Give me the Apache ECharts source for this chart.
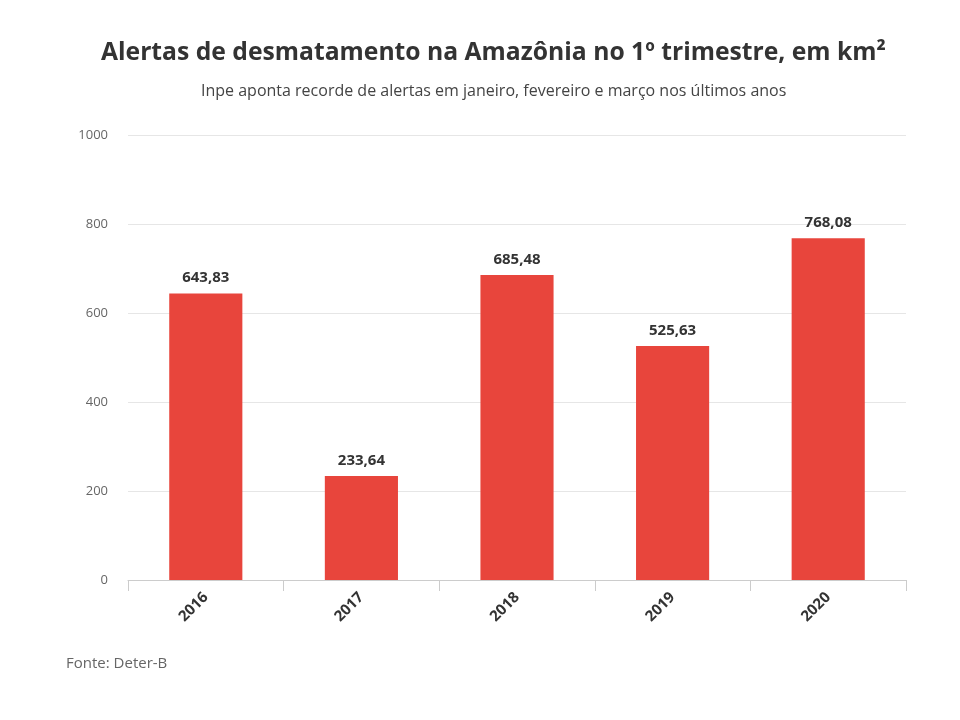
<!DOCTYPE html>
<html>
<head>
<meta charset="utf-8">
<script src="https://cdn.jsdelivr.net/npm/echarts@6/dist/echarts.min.js"></script>
<style>
  html, body { margin: 0; padding: 0; background: #fff; }
  #main { width: 960px; height: 720px; }
</style>
</head>
<body>
<div id="main"></div>
<script>
var anos = ['2016', '2017', '2018', '2019', '2020'];
var alertas = [643.83, 233.64, 685.48, 525.63, 768.08];
var yMax = 1000;
var yStep = 200;

var myChart = echarts.init(document.getElementById('main'));

var option = {
    backgroundColor: '#fff',
    textStyle: { fontFamily: 'Open Sans' },
    title: [{
        text: 'Alertas de desmatamento na Amazônia no 1º trimestre, em km²',
        left: 96,
        top: 35,
        textStyle: { fontFamily: 'Open Sans', fontSize: 24.7, fontWeight: 'bold', color: '#333' }
    }, {
        text: 'Inpe aponta recorde de alertas em janeiro, fevereiro e março nos últimos anos',
        left: 196,
        top: 78,
        textStyle: { fontFamily: 'Open Sans', fontSize: 16, fontWeight: 'normal', color: '#444' }
    }, {
        text: 'Fonte: Deter-B',
        left: 61,
        top: 651,
        textStyle: { fontFamily: 'Open Sans', fontSize: 15, fontWeight: 'normal', color: '#666' }
    }],
    grid: { left: 128, right: 54, top: 135, bottom: 140 },
    xAxis: {
        type: 'category',
        data: anos,
        axisLine: { lineStyle: { color: '#cccccc' } },
        axisTick: { show: true, length: 11, lineStyle: { color: '#cccccc' } },
        axisLabel: {
            rotate: 45,
            fontFamily: 'Open Sans',
            fontSize: 15,
            fontWeight: 'bold',
            color: '#333',
            margin: 15
        }
    },
    yAxis: {
        type: 'value',
        min: 0,
        max: yMax,
        interval: yStep,
        axisLine: { show: false },
        axisTick: { show: false },
        axisLabel: {
            fontFamily: 'Open Sans',
            fontSize: 13,
            color: '#666',
            margin: 20,
            formatter: function (v) { return String(v); }
        },
        splitLine: { lineStyle: { color: '#e6e6e6' } }
    },
    series: [{
        type: 'bar',
        data: alertas,
        barWidth: '47%',
        itemStyle: { color: '#e8453c' },
        label: {
            show: true,
            position: 'top',
            distance: 8,
            fontFamily: 'Open Sans',
            fontSize: 15,
            fontWeight: 'bold',
            color: '#333',
            formatter: function (p) {
                return p.value.toFixed(2).replace('.', ',');
            }
        }
    }]
};
myChart.setOption(option);
</script>
</body>
</html>
